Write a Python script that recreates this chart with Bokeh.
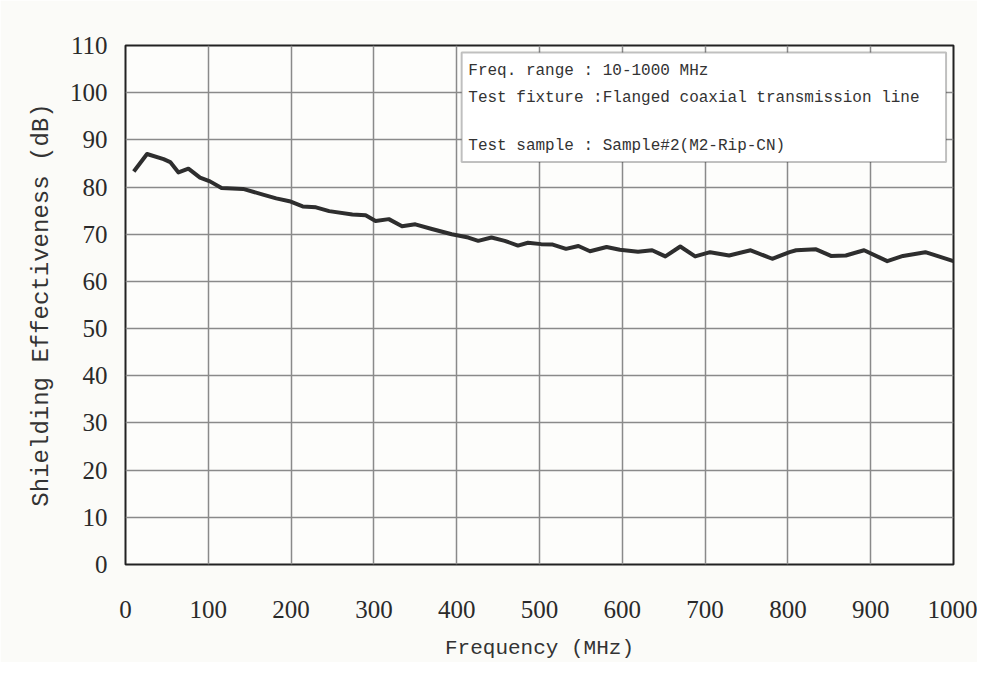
from bokeh.plotting import figure
from bokeh.models import FixedTicker, BoxAnnotation, Label, Range1d
from bokeh.embed import file_html
from bokeh.resources import INLINE

freq_mhz = [10, 26, 46, 54, 64, 76, 90, 102, 116, 142, 166, 182, 198, 214, 230, 246,
            274, 290, 302, 318, 334, 350, 370, 394, 414, 426, 442, 458, 474, 486, 502,
            516, 532, 547, 561, 581, 597, 619, 636, 652, 670, 688, 706, 729, 755, 781,
            802, 810, 834, 852, 870, 892, 920, 939, 966, 1000]
se_db = [83.3, 87.0, 85.9, 85.3, 83.1, 83.9, 82.0, 81.2, 79.8, 79.6, 78.4, 77.6, 77.0,
         75.9, 75.7, 74.9, 74.2, 74.0, 72.8, 73.2, 71.7, 72.1, 71.1, 70.0, 69.3, 68.6,
         69.3, 68.6, 67.6, 68.2, 67.9, 67.8, 66.9, 67.5, 66.4, 67.3, 66.7, 66.3, 66.6,
         65.3, 67.4, 65.3, 66.2, 65.5, 66.6, 64.8, 66.2, 66.6, 66.8, 65.4, 65.5, 66.6,
         64.3, 65.4, 66.2, 64.3]
x_ticks = [0, 100, 200, 300, 400, 500, 600, 700, 800, 900, 1000]
y_ticks = [0, 10, 20, 30, 40, 50, 60, 70, 80, 90, 100, 110]
info_lines = ["Freq. range : 10-1000 MHz",
              "Test fixture :Flanged coaxial transmission line",
              "Test sample : Sample#2(M2-Rip-CN)"]

p = figure(width=977, height=662, output_backend="svg", toolbar_location=None,
           x_range=Range1d(0, 1000), y_range=Range1d(0, 110),
           min_border_left=125, min_border_right=24, min_border_top=45, min_border_bottom=97)
p.background_fill_color = "#fdfdfb"
p.border_fill_color = "#fbfbf8"
p.outline_line_color = "#222222"
p.outline_line_width = 2

p.xaxis.ticker = FixedTicker(ticks=x_ticks)
p.yaxis.ticker = FixedTicker(ticks=y_ticks)
for ax in (p.xaxis, p.yaxis):
    ax.axis_line_color = None
    ax.major_tick_line_color = None
    ax.minor_tick_line_color = None
    ax.major_label_text_font = "Liberation Serif"
    ax.major_label_text_font_size = "25px"
    ax.major_label_text_color = "#2a2a2a"
    ax.axis_label_text_font = "Liberation Mono"
    ax.axis_label_text_font_style = "normal"
    ax.axis_label_text_color = "#333333"
p.xaxis.major_label_standoff = 30
p.yaxis.major_label_standoff = 12
p.xaxis.axis_label = "Frequency (MHz)"
p.xaxis.axis_label_text_font_size = "21px"
p.xaxis.axis_label_standoff = 16
p.yaxis.axis_label = "Shielding Effectiveness (dB)"
p.yaxis.axis_label_text_font_size = "24px"
p.yaxis.axis_label_standoff = 12

p.grid.grid_line_color = "#8a8a8a"
p.grid.grid_line_width = 1.5
p.grid.grid_line_alpha = 1.0

p.line(freq_mhz, se_db, line_color="#2e2e2e", line_width=4, line_join="round")

box = BoxAnnotation(left=406, right=991, top=108.5, bottom=85.3,
                    fill_color="#ffffff", fill_alpha=1.0,
                    line_color="#333333", line_width=2, level="overlay")
p.add_layout(box)
for txt, yy in zip(info_lines, [104.7, 98.8, 88.8]):
    p.add_layout(Label(x=414, y=yy, text=txt, text_font="Liberation Mono",
                       text_font_size="16px", text_color="#333333",
                       text_baseline="middle", level="overlay"))

open("out.html", "w").write(file_html(p, INLINE))
